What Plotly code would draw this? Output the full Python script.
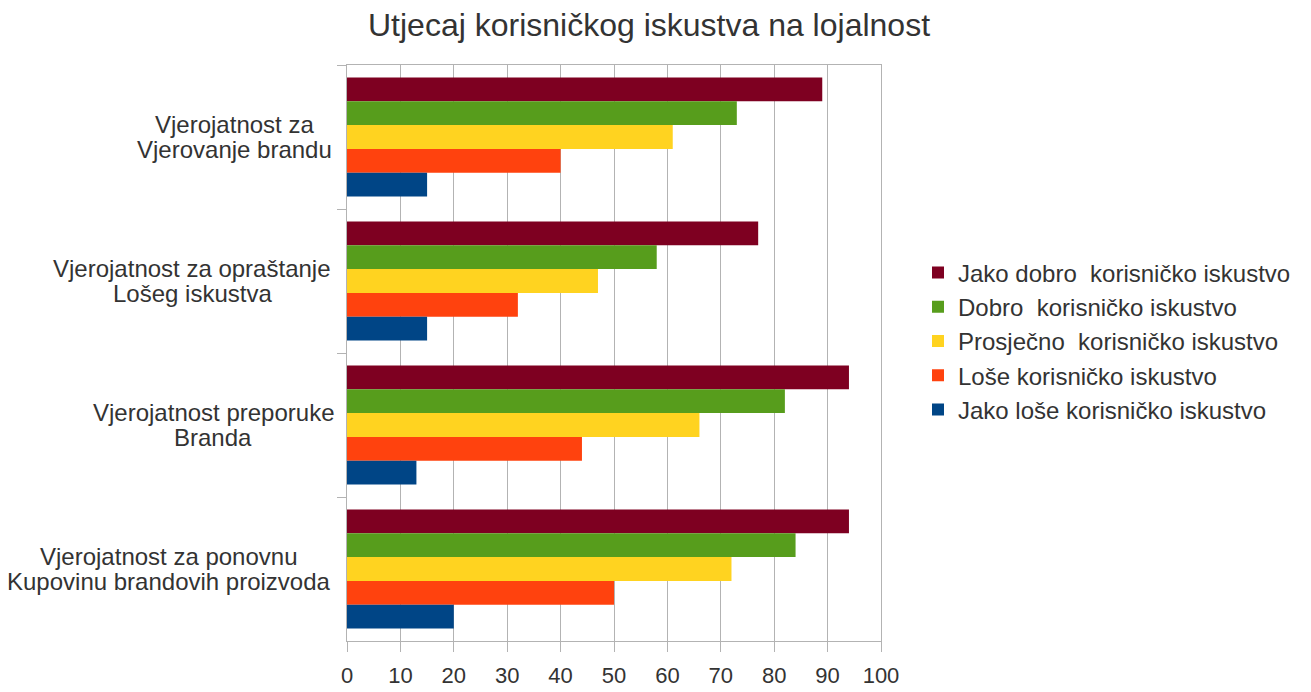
import plotly.graph_objects as go

# Categories (top to bottom), one list per label line
categories = [
    "Vjerovanje brandu",
    "Opraštanje lošeg iskustva",
    "Preporuka branda",
    "Ponovna kupovina",
]
label_line1 = [
    "Vjerojatnost za",
    "Vjerojatnost za opraštanje",
    "Vjerojatnost preporuke",
    "Vjerojatnost za ponovnu",
]
label_line2 = [
    "Vjerovanje brandu",
    "Lošeg iskustva",
    "Branda",
    "Kupovinu brandovih proizvoda",
]

series_names = [
    "Jako dobro  korisničko iskustvo",
    "Dobro  korisničko iskustvo",
    "Prosječno  korisničko iskustvo",
    "Loše korisničko iskustvo",
    "Jako loše korisničko iskustvo",
]

jako_dobro = [89, 77, 94, 94]
dobro = [73, 58, 82, 84]
prosjecno = [61, 47, 66, 72]
lose = [40, 32, 44, 50]
jako_lose = [15, 15, 13, 20]

series_values = [jako_dobro, dobro, prosjecno, lose, jako_lose]
colors = ["#7E0021", "#579D1C", "#FFD320", "#FF420E", "#004586"]

FONT = "Liberation Sans, Arial, sans-serif"
TEXT = "#333333"
GRID = "#b3b3b3"

# horizontal centre of each label block, px left of the plot edge
label_centre_shift = [-113, -155, -134, -178]

fig = go.Figure()
for name, vals, col in zip(series_names, series_values, colors):
    fig.add_trace(go.Bar(
        x=vals,
        y=categories,
        orientation="h",
        name=name,
        marker=dict(color=col, line=dict(width=0)),
    ))

annotations = []
for cat, l1, l2, sh in zip(categories, label_line1, label_line2, label_centre_shift):
    for txt, ysh in ((l1, 12.5), (l2, -12.5)):
        annotations.append(dict(
            x=0, xref="paper", xshift=sh,
            y=cat, yref="y", yshift=ysh,
            text=txt,
            showarrow=False,
            xanchor="center",
            yanchor="middle",
            font=dict(family=FONT, size=24, color=TEXT),
        ))

fig.update_layout(
    barmode="group",
    bargap=0.175,
    bargroupgap=0,
    width=1311,
    height=692,
    paper_bgcolor="white",
    plot_bgcolor="white",
    margin=dict(l=339, r=438, t=57, b=50),
    font=dict(family=FONT, size=24, color=TEXT),
    title=dict(
        text="Utjecaj korisničkog iskustva na lojalnost",
        x=641 / 1311, xanchor="center",
        y=1 - 17 / 692, yanchor="middle",
        font=dict(family=FONT, size=32, color=TEXT),
    ),
    legend=dict(
        xref="container", yref="container",
        x=910 / 1311, xanchor="left",
        y=1 - 333 / 692, yanchor="middle",
        font=dict(family=FONT, size=24, color=TEXT),
        traceorder="normal",
        bgcolor="rgba(0,0,0,0)",
    ),
    annotations=annotations,
)

fig.update_xaxes(
    range=[0, 100],
    dtick=10,
    showgrid=True,
    gridcolor=GRID,
    gridwidth=1,
    zeroline=False,
    showline=True,
    linecolor=GRID,
    mirror=True,
    ticks="outside",
    ticklen=10,
    tickcolor=GRID,
    ticklabelstandoff=5,
    tickfont=dict(family=FONT, size=22, color=TEXT),
)

fig.update_yaxes(
    autorange="reversed",
    showgrid=False,
    showline=True,
    linecolor=GRID,
    mirror=True,
    ticks="outside",
    tickson="boundaries",
    ticklen=9,
    tickcolor=GRID,
    showticklabels=False,
)

fig.write_html("out.html")
